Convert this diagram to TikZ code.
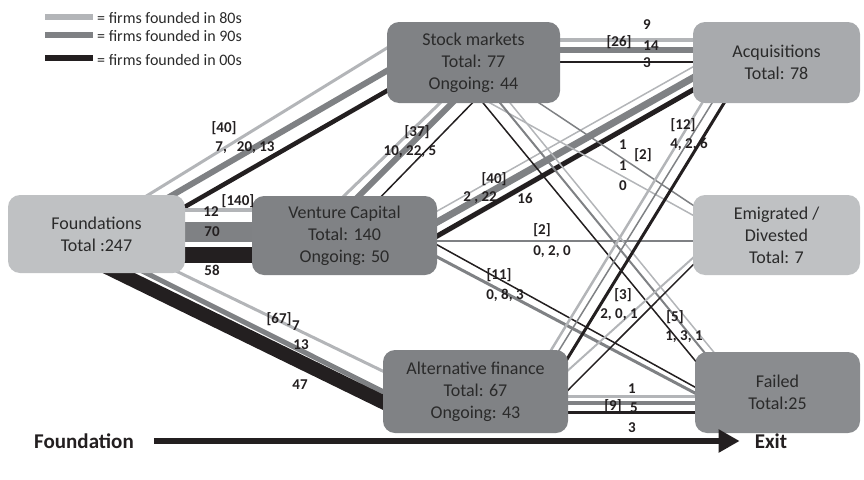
\documentclass[tikz,border=0pt]{standalone}
\usepackage{fontspec}
\setmainfont{Carlito}
\usetikzlibrary{arrows.meta,backgrounds}

% cohort colours and box fills
\definecolor{c80}{HTML}{B3B5B8}
\definecolor{c90}{HTML}{7F8184}
\definecolor{c00}{HTML}{231F20}
\definecolor{boxlight}{HTML}{BFC1C3}
\definecolor{boxmid}{HTML}{A8AAAD}
\definecolor{boxdark}{HTML}{808285}
\definecolor{boxfail}{HTML}{8A8C8F}
\definecolor{boxtext}{HTML}{2A2A2A}

\tikzset{
  flowbox/.style={rounded corners=12pt, inner sep=0pt, align=center,
    text=boxtext, font=\fontsize{18}{22}\selectfont},
  num/.style={inner sep=0pt, text=c00, font=\bfseries\fontsize{15}{16}\selectfont},
  legtext/.style={inner sep=0pt, anchor=west, text=boxtext, font=\fontsize{16}{17}\selectfont},
  axislabel/.style={inner sep=0pt, text=c00, font=\bfseries\fontsize{21}{23}\selectfont},
  f80/.style={draw=c80, line width=#1},
  f90/.style={draw=c90, line width=#1},
  f00/.style={draw=c00, line width=#1},
}

\begin{document}
\begin{tikzpicture}[x=1pt, y=-1pt]
\useasboundingbox (0,0) rectangle (864,479);

% stages
\node[flowbox, fill=boxlight, minimum width=177pt, minimum height=78pt] (found) at (96.5,234) {Foundations\\Total :247};
\node[flowbox, fill=boxdark, minimum width=185pt, minimum height=79pt] (vc) at (344.5,235.5) {Venture Capital\\Total: 140\\Ongoing: 50};
\node[flowbox, fill=boxdark, minimum width=173pt, minimum height=81pt] (stock) at (473.5,62.5) {Stock markets\\Total: 77\\Ongoing: 44};
\node[flowbox, fill=boxdark, minimum width=185pt, minimum height=83pt] (alt) at (475.5,391.5) {Alternative finance\\Total: 67\\Ongoing: 43};
\node[flowbox, fill=boxmid, minimum width=167pt, minimum height=81pt] (acq) at (776.5,62.5) {Acquisitions\\Total: 78};
\node[flowbox, fill=boxlight, minimum width=167pt, minimum height=80pt] (emi) at (776.5,235) {Emigrated /\\Divested\\Total: 7};
\node[flowbox, fill=boxfail, minimum width=165pt, minimum height=81pt] (fail) at (777.5,392.5) {Failed\\Total:25};

\begin{scope}[on background layer]
% Foundations -> Stock markets
\draw[f80=3]   ([shift={(-55,-28)}]found.east) -- ([shift={(5,-17.5)}]stock.west);
\draw[f90=6]   ([shift={(-35,-26)}]found.east) -- ([shift={(5,5.5)}]stock.west);
\draw[f00=4.5] ([shift={(-25,-13)}]found.east) -- ([shift={(5,25.5)}]stock.west);
% Foundations -> Venture Capital
\draw[f80=4]  ([shift={(-5,-24)}]found.east) -- ([shift={(5,-25.5)}]vc.west);
\draw[f90=20] ([shift={(-5,-2)}]found.east)  -- ([shift={(5,-3.5)}]vc.west);
\draw[f00=16] ([shift={(-5,21)}]found.east)  -- ([shift={(5,19.5)}]vc.west);
% Foundations -> Alternative finance
\draw[f80=3]  ([shift={(-35,24.5)}]found.east) -- ([shift={(5,-18)}]alt.west);
\draw[f90=5]  ([shift={(-55,31)}]found.east)   -- ([shift={(5,2.5)}]alt.west);
\draw[f00=14] ([shift={(-85,30)}]found.east)   -- ([shift={(5,13)}]alt.west);
% Venture Capital -> Stock markets
\draw[f80=3]   ([shift={(-4.5,4)}]vc.north) -- ([shift={(-29.5,-4)}]stock.south);
\draw[f90=6]   ([shift={(10.5,4)}]vc.north) -- ([shift={(-17.5,-4)}]stock.south);
\draw[f00=1.5] ([shift={(33.5,4)}]vc.north) -- ([shift={(2.5,-4)}]stock.south);
% Stock markets -> Acquisitions
\draw[f80=4]   ([shift={(-5,-22.5)}]stock.east) -- ([shift={(5,-22.5)}]acq.west);
\draw[f90=6]   ([shift={(-5,-12.5)}]stock.east) -- ([shift={(5,-12.5)}]acq.west);
\draw[f00=2.5] ([shift={(-5,-0.5)}]stock.east)  -- ([shift={(5,-0.5)}]acq.west);
% Venture Capital -> Acquisitions
\draw[f80=1.5] ([shift={(-7,-20.5)}]vc.east) -- ([shift={(7,0.5)}]acq.west);
\draw[f90=7]   ([shift={(-7,-9.5)}]vc.east)  -- ([shift={(7,11.5)}]acq.west);
\draw[f00=5]   ([shift={(-7,4.5)}]vc.east)   -- ([shift={(7,23.5)}]acq.west);
% Venture Capital -> Emigrated
\draw[f90=2]   ([shift={(-5,5.5)}]vc.east) -- ([shift={(5,6)}]emi.west);
% Venture Capital -> Failed
\draw[f90=3]   ([shift={(-7,17.8)}]vc.east) -- ([shift={(5,3.1)}]fail.west);
\draw[f00=1.5] ([shift={(-7,5.5)}]vc.east)  -- ([shift={(5,-2.7)}]fail.west);
% Stock markets -> Emigrated
\draw[f80=1.5] ([shift={(11.5,-3)}]stock.south) -- ([shift={(7,-16)}]emi.west);
\draw[f90=1.5] ([shift={(61.5,-3)}]stock.south) -- ([shift={(7,-25.3)}]emi.west);
% Stock markets -> Failed
\draw[f80=1.5] ([shift={(33.5,-4)}]stock.south) -- ([shift={(22,4)}]fail.north west);
\draw[f90=2]   ([shift={(23.5,-4)}]stock.south) -- ([shift={(14,6)}]fail.north west);
\draw[f00=1.5] ([shift={(6.5,-4)}]stock.south)  -- ([shift={(3,12)}]fail.north west);
% Alternative finance -> Acquisitions
\draw[f80=2.5] ([shift={(71.5,7)}]alt.north)  -- ([shift={(-71.5,-5)}]acq.south);
\draw[f90=1.5] ([shift={(79.5,7)}]alt.north)  -- ([shift={(-61.5,-5)}]acq.south);
\draw[f00=3]   ([shift={(87.5,16)}]alt.north) -- ([shift={(-49.5,-5)}]acq.south);
% Alternative finance -> Emigrated
\draw[f80=2]   ([shift={(-7,-15)}]alt.east) -- ([shift={(7,16.7)}]emi.west);
\draw[f00=1.5] ([shift={(-7,5.5)}]alt.east) -- ([shift={(7,23)}]emi.west);
% Alternative finance -> Failed
\draw[f80=3] ([shift={(-5,4.5)}]alt.east)  -- ([shift={(5,3.5)}]fail.west);
\draw[f90=4] ([shift={(-5,11.5)}]alt.east) -- ([shift={(5,10.5)}]fail.west);
\draw[f00=3] ([shift={(-5,20.5)}]alt.east) -- ([shift={(5,19.5)}]fail.west);
\end{scope}

% flow counts
\node[num] (n1a) at (224,128) {[40]};
\node[num] (n1b) at (245,148) {7,\hspace{10pt}20, 13};
\node[num] (n2a) at (238,201) {[140]};
\node[num] (n2b) at (211,212) {12};
\node[num] (n2c) at (212,232) {70};
\node[num] (n2d) at (212,270) {58};
\node[num] (n3a) at (279,319) {[67]};
\node[num] (n3b) at (296,326) {7};
\node[num] (n3c) at (301,345) {13};
\node[num] (n3d) at (300,385) {47};
\node[num] (n4a) at (417,132) {[37]};
\node[num] (n4b) at (410,152) {10, 22, 5};
\node[num] (n5a) at (647,25) {9};
\node[num] (n5b) at (619,42) {[26]};
\node[num] (n5c) at (651,46) {14};
\node[num] (n5d) at (647,63) {3};
\node[num] (n6a) at (494,179) {[40]};
\node[num] (n6b) at (480,198) {2 , 22};
\node[num] (n6c) at (525,198) {16};
\node[num] (n7a) at (542,230) {[2]};
\node[num] (n7b) at (552,252) {0, 2, 0};
\node[num] (n8a) at (499,275) {[11]};
\node[num] (n8b) at (505,295) {0, 8, 3};
\node[num] (n9a) at (623,145) {1};
\node[num] (n9b) at (643,155) {[2]};
\node[num] (n9c) at (623,166) {1};
\node[num] (n9d) at (623,186) {0};
\node[num] (n10a) at (675,317) {[5]};
\node[num] (n10b) at (684,337) {1, 3, 1};
\node[num] (n11a) at (683,125) {[12]};
\node[num] (n11b) at (689,144) {4, 2, 6};
\node[num] (n12a) at (623,295) {[3]};
\node[num] (n12b) at (619,315) {2, 0, 1};
\node[num] (n13a) at (632,389) {1};
\node[num] (n13b) at (613,406) {[9]};
\node[num] (n13c) at (634,408) {5};
\node[num] (n13d) at (632,428) {3};

% legend
\coordinate (l1a) at (45,17); \coordinate (l1b) at (93,17);
\coordinate (l2a) at (45,35); \coordinate (l2b) at (93,35);
\coordinate (l3a) at (45,58); \coordinate (l3b) at (93,58);
\draw[f80=6] (l1a) -- (l1b);
\draw[f90=6] (l2a) -- (l2b);
\draw[f00=6] (l3a) -- (l3b);
\node[legtext] (lt1) at (97,18) {= firms founded in 80s};
\node[legtext] (lt2) at (97,36) {= firms founded in 90s};
\node[legtext] (lt3) at (97,60) {= firms founded in 00s};

% time axis
\node[axislabel] (tstart) at (84,441) {Foundation};
\node[axislabel] (tend) at (771,441) {Exit};
\draw[c00, line width=6pt, -{Triangle[length=21pt, width=22pt]}] ([xshift=20pt]tstart.east) -- ([xshift=-15pt]tend.west);
\end{tikzpicture}
\end{document}
